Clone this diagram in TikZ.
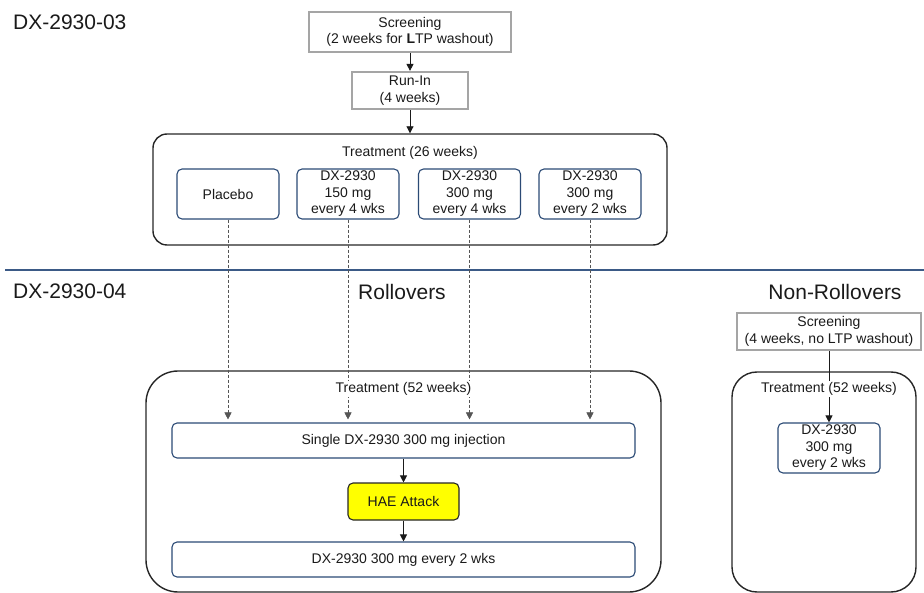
\documentclass[tikz,border=0pt]{standalone}
\usepackage{fontspec}
\setmainfont{Liberation Sans}
\usetikzlibrary{arrows.meta}
\definecolor{boxgray}{HTML}{A5A5A5}
\definecolor{navy}{HTML}{2B4A75}
\definecolor{outline}{HTML}{262626}
\definecolor{txt}{HTML}{1A1A1A}
\definecolor{dashgray}{HTML}{555555}
\definecolor{divider}{HTML}{3B5A86}
\definecolor{hae}{HTML}{FFFF00}
\tikzset{
  base/.style={font=\fontsize{14}{16.5}\selectfont, text=txt, align=center, inner sep=0pt},
  graybox/.style={base, draw=boxgray, line width=2.2pt, fill=white},
  dxbox/.style={base, draw=navy, line width=1.1pt, rounded corners=5pt, fill=white},
  outerbox/.style={draw=outline, line width=1.4pt},
  lbl/.style={base, fill=white, inner xsep=2pt, inner ysep=1pt},
  head/.style={font=\fontsize{21}{25}\selectfont, text=txt, inner sep=0pt},
  arr/.style={-{Triangle[width=7pt,length=7pt]}, line width=0.9pt, draw=txt},
  darr/.style={-{Triangle[width=7pt,length=7pt]}, dash pattern=on 3pt off 2pt, line width=0.6pt, draw=dashgray, shorten >=3pt},
}
\begin{document}
\begin{tikzpicture}[x=1pt,y=-1pt]
\useasboundingbox (0,0) rectangle (924,593);

% headings
\node[head, anchor=west] (h03) at (13,22) {DX-2930-03};
\node[head, anchor=west] (h04) at (13,291) {DX-2930-04};
\node[head] (hroll) at (402,292) {Rollovers};
\node[head] (hnon) at (835,292) {Non-Rollovers};
\coordinate (divL) at (5,270);
\coordinate (divR) at (924,270);
\draw[divider, line width=1.1pt] (divL) -- (divR);

% top study
\node[graybox, minimum width=202pt, minimum height=40pt] (scr) at (410,32) {Screening\\(2 weeks for \textbf{L}TP washout)};
\node[graybox, minimum width=116pt, minimum height=37pt] (runin) at (410,90.5) {Run-In\\(4 weeks)};
\node[outerbox, rounded corners=14pt, minimum width=514pt, minimum height=111pt, inner sep=0pt] (t26) at (410,189.5) {};
\node[base] (t26l) at (410,153) {Treatment (26 weeks)};
\node[dxbox, minimum width=102pt, minimum height=50pt] (pl) at (228,194) {Placebo};
\node[dxbox, minimum width=102pt, minimum height=50pt] (d1) at (348,194) {DX-2930\\150 mg\\every 4 wks};
\node[dxbox, minimum width=102pt, minimum height=50pt] (d2) at (469.5,194) {DX-2930\\300 mg\\every 4 wks};
\node[dxbox, minimum width=102pt, minimum height=50pt] (d3) at (590,194) {DX-2930\\300 mg\\every 2 wks};
\draw[arr] (scr.south) -- (runin.north);
\draw[arr] (runin.south) -- (t26.north);

% rollovers
\node[outerbox, rounded corners=32pt, minimum width=515pt, minimum height=221pt, inner sep=0pt] (t52) at (403.5,481.5) {};
\node[dxbox, minimum width=463pt, minimum height=35pt] (single) at (403.5,440.5) {Single DX-2930 300 mg injection};
\node[base, draw=outline, line width=1.1pt, rounded corners=5pt, fill=hae, minimum width=111pt, minimum height=37pt] (hae) at (403.5,501.5) {HAE Attack};
\node[dxbox, minimum width=463pt, minimum height=35pt] (q2) at (403.5,559.5) {DX-2930 300 mg every 2 wks};
\draw[darr] (pl.south) -- (pl.south |- single.north);
\draw[darr] (d1.south) -- (d1.south |- single.north);
\draw[darr] (d2.south) -- (d2.south |- single.north);
\draw[darr] (d3.south) -- (d3.south |- single.north);
\draw[arr] (single.south) -- (hae.north);
\draw[arr] (hae.south) -- (q2.north);
\node[lbl] (t52l) at (403.5,389) {Treatment (52 weeks)};

% non-rollovers
\node[outerbox, rounded corners=25pt, minimum width=184pt, minimum height=220pt, inner sep=0pt] (nrt) at (824,482) {};
\node[graybox, minimum width=184pt, minimum height=37pt] (nrscr) at (829,331.5) {Screening\\(4 weeks, no LTP washout)};
\node[dxbox, minimum width=102pt, minimum height=50pt] (nrdx) at (829,448) {DX-2930\\300 mg\\every 2 wks};
\draw[arr] (nrscr.south) -- (nrdx.north);
\node[lbl] (nrl) at (829,389) {Treatment (52 weeks)};
\end{tikzpicture}
\end{document}
